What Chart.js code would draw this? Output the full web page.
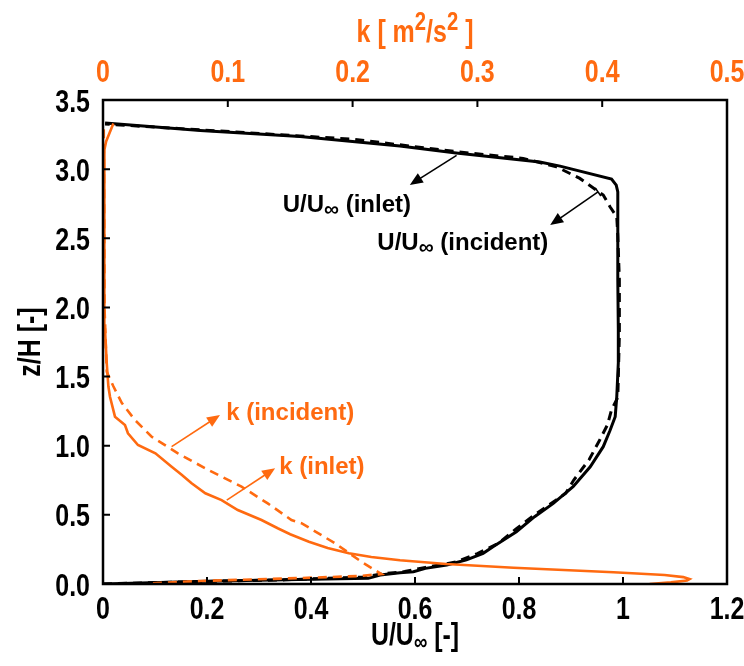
<!DOCTYPE html>
<html><head><meta charset="utf-8">
<script src="https://cdn.jsdelivr.net/npm/chart.js@4.4.0/dist/chart.umd.min.js"></script>
<style>html,body{margin:0;padding:0;background:#fff}#wrap{width:744px;height:666px}</style>
</head><body><div id="wrap"><canvas id="c" width="744" height="666"></canvas></div>
<script>
// ---- tick values ----
const uTicks = [0, 0.2, 0.4, 0.6, 0.8, 1, 1.2];
const kTicks = [0, 0.1, 0.2, 0.3, 0.4, 0.5];
const zTicks = [0, 0.5, 1, 1.5, 2, 2.5, 3, 3.5];

// ---- U/U∞ (inlet), solid black ----
const uInletZ = [0, 0.02, 0.034, 0.041, 0.065, 0.082, 0.089, 0.113, 0.137, 0.15, 0.174, 0.222, 0.27, 0.378, 0.487, 0.583, 0.704, 0.848, 0.993, 1.11, 1.21, 1.354, 1.6, 1.84, 2.2, 2.6, 2.835, 2.885, 2.928, 3.022, 3.051, 3.116, 3.167, 3.198, 3.236, 3.279, 3.333];
const uInletU = [0, 0.2, 0.4, 0.51, 0.533, 0.571, 0.597, 0.62, 0.661, 0.674, 0.699, 0.731, 0.75, 0.795, 0.83, 0.866, 0.904, 0.937, 0.962, 0.975, 0.985, 0.988, 0.991, 0.991, 0.99, 0.99, 0.99, 0.987, 0.978, 0.879, 0.84, 0.679, 0.571, 0.485, 0.379, 0.187, 0.004];

// ---- U/U∞ (incident), dashed black ----
const uIncZ = [0, 0.015, 0.03, 0.05, 0.072, 0.09, 0.12, 0.16, 0.22, 0.294, 0.4, 0.5, 0.656, 0.75, 0.9, 1.04, 1.15, 1.26, 1.35, 1.8, 2.2, 2.52, 2.656, 2.728, 2.813, 2.933, 3.017, 3.078, 3.126, 3.215, 3.27, 3.326];
const uIncU = [0, 0.15, 0.35, 0.5, 0.535, 0.58, 0.62, 0.68, 0.72, 0.76, 0.795, 0.83, 0.89, 0.905, 0.935, 0.955, 0.97, 0.978, 0.99, 0.993, 0.993, 0.99, 0.988, 0.975, 0.962, 0.917, 0.872, 0.808, 0.68, 0.485, 0.25, 0.004];

// ---- k (inlet), solid orange ----
const kInletZ = [0, 0.012, 0.025, 0.035, 0.05, 0.065, 0.085, 0.118, 0.145, 0.172, 0.195, 0.222, 0.26, 0.306, 0.36, 0.403, 0.463, 0.535, 0.607, 0.656, 0.728, 0.79, 0.848, 0.945, 1.005, 1.09, 1.15, 1.21, 1.354, 1.43, 1.596, 1.84, 2.5, 3.14, 3.2, 3.33];
const kInletK = [0.438, 0.455, 0.468, 0.47, 0.465, 0.45, 0.409, 0.329, 0.275, 0.238, 0.215, 0.197, 0.18, 0.165, 0.15, 0.14, 0.127, 0.108, 0.095, 0.082, 0.071, 0.063, 0.055, 0.042, 0.028, 0.02, 0.0176, 0.0096, 0.0056, 0.0043, 0.003, 0.0016, 0.0012, 0.001, 0.0025, 0.0083];

// ---- k (incident), dashed orange ----
const kIncZ = [0.005, 0.022, 0.043, 0.058, 0.072, 0.161, 0.294, 0.44, 0.463, 0.583, 0.704, 0.824, 0.945, 1.065, 1.186, 1.31, 1.43, 1.535, 2.0, 2.6, 3.0, 3.3];
const kIncK = [0.04, 0.078, 0.158, 0.206, 0.223, 0.207, 0.186, 0.159, 0.151, 0.132, 0.111, 0.0845, 0.06, 0.039, 0.0256, 0.015, 0.0083, 0.003, 0.0012, 0.001, 0.0008, 0.0006];

const ORANGE = '#FF6A10';
const SANS = "'Liberation Sans',Arial,sans-serif";
const SQ = 0.78; // horizontal condensing of axis text (narrow bold look)

const pts = (xs, zs) => xs.map((v, i) => ({x: v, y: zs[i]}));

const annotations = [
  {parts: ['U/U', '∞', ' (inlet)'], color: '#000', center: [0.469, 2.75], from: [0.680, 3.10], to: [0.590, 2.886], bar: false},
  {parts: ['U/U', '∞', ' (incident)'], color: '#000', center: [0.692, 2.473], from: [0.952, 2.835], to: [0.860, 2.596], bar: true},
  {parts: ['k', '', ' (incident)'], color: ORANGE, center: [0.36, 1.244], from: [0.132, 0.993], to: [0.225, 1.222], bar: false},
  {parts: ['k', '', ' (inlet)'], color: ORANGE, center: [0.421, 0.853], from: [0.238, 0.607], to: [0.331, 0.837], bar: false}
];

function arrow(ctx, x1, y1, x2, y2, color, bar) {
  const a = Math.atan2(y2 - y1, x2 - x1);
  const L = 13, W = 5.5;
  ctx.save();
  ctx.strokeStyle = color; ctx.fillStyle = color; ctx.lineWidth = 1.6;
  ctx.beginPath(); ctx.moveTo(x1, y1);
  ctx.lineTo(x2 - L * 0.8 * Math.cos(a), y2 - L * 0.8 * Math.sin(a)); ctx.stroke();
  ctx.beginPath();
  ctx.moveTo(x2, y2);
  ctx.lineTo(x2 - L * Math.cos(a) + W * Math.sin(a), y2 - L * Math.sin(a) - W * Math.cos(a));
  ctx.lineTo(x2 - L * Math.cos(a) - W * Math.sin(a), y2 - L * Math.sin(a) + W * Math.cos(a));
  ctx.closePath(); ctx.fill();
  if (bar) {
    ctx.beginPath();
    ctx.moveTo(x1 + 5 * Math.sin(a), y1 - 5 * Math.cos(a));
    ctx.lineTo(x1 - 5 * Math.sin(a), y1 + 5 * Math.cos(a));
    ctx.stroke();
  }
  ctx.restore();
}

// draw condensed text; align: 'left' | 'center' | 'right'
function sqText(ctx, txt, x, y, align, font) {
  ctx.save();
  ctx.font = font;
  ctx.translate(x, y); ctx.scale(SQ, 1);
  ctx.textAlign = align; ctx.textBaseline = 'alphabetic';
  ctx.fillText(txt, 0, 0);
  ctx.restore();
}
function sqWidth(ctx, txt, font) { ctx.save(); ctx.font = font; const w = ctx.measureText(txt).width * SQ; ctx.restore(); return w; }

const trim = v => String(Number(v.toFixed(2)));

const decor = {
  id: 'decor',
  afterDatasetsDraw(chart) {
    const {ctx, chartArea: ca, scales} = chart;
    const sx = scales.x, sy = scales.y, sk = scales.x2;
    ctx.save();
    ctx.strokeStyle = '#000'; ctx.lineWidth = 2.5;
    ctx.strokeRect(ca.left, ca.top, ca.right - ca.left, ca.bottom - ca.top);
    ctx.lineWidth = 2;
    const T = 7;
    ctx.beginPath();
    uTicks.forEach(v => { const p = sx.getPixelForValue(v); ctx.moveTo(p, ca.bottom); ctx.lineTo(p, ca.bottom - T); });
    kTicks.forEach(v => { const p = sk.getPixelForValue(v); ctx.moveTo(p, ca.top); ctx.lineTo(p, ca.top + T); });
    zTicks.forEach(v => { const p = sy.getPixelForValue(v); ctx.moveTo(ca.left, p); ctx.lineTo(ca.left + T, p); });
    ctx.stroke();

    // tick labels
    const tf = 'bold 32px ' + SANS;
    ctx.fillStyle = '#000';
    uTicks.forEach(v => sqText(ctx, trim(v), sx.getPixelForValue(v), ca.bottom + 35, 'center', tf));
    zTicks.forEach(v => sqText(ctx, v.toFixed(1), ca.left - 13, sy.getPixelForValue(v) + 11.5, 'right', tf));
    ctx.fillStyle = ORANGE;
    kTicks.forEach(v => sqText(ctx, trim(v), sk.getPixelForValue(v), ca.top - 18, 'center', tf));

    // annotations
    annotations.forEach(an => {
      const fx = sx.getPixelForValue(an.from[0]), fy = sy.getPixelForValue(an.from[1]);
      const tx = sx.getPixelForValue(an.to[0]), ty = sy.getPixelForValue(an.to[1]);
      arrow(ctx, fx, fy, tx, ty, an.color, an.bar);
      const cx = sx.getPixelForValue(an.center[0]), cy = sy.getPixelForValue(an.center[1]);
      const big = 'bold 24px ' + SANS, small = 'bold 21px ' + SANS;
      ctx.font = big; const w0 = ctx.measureText(an.parts[0]).width;
      const w2 = ctx.measureText(an.parts[2]).width;
      ctx.font = small; const w1 = an.parts[1] ? ctx.measureText(an.parts[1]).width : 0;
      let x = cx - (w0 + w1 + w2) / 2;
      ctx.fillStyle = an.color; ctx.textBaseline = 'alphabetic'; ctx.textAlign = 'left';
      const base = cy + 8;
      ctx.font = big; ctx.fillText(an.parts[0], x, base); x += w0;
      if (an.parts[1]) { ctx.font = small; ctx.fillText(an.parts[1], x, base + 4); x += w1; }
      ctx.font = big; ctx.fillText(an.parts[2], x, base);
    });
    ctx.restore();
  },
  afterDraw(chart) {
    const {ctx, chartArea: ca} = chart;
    ctx.save();
    const f = 'bold 32px ' + SANS, fs = 'bold 24px ' + SANS, fsup = 'bold 26px ' + SANS;
    ctx.fillStyle = '#000';
    // bottom title U/U∞ [-]
    const parts = [['U/U', f, 0], ['∞', fs, 5], [' [-]', f, 0]];
    let tw = parts.reduce((s, p) => s + sqWidth(ctx, p[0], p[1]), 0);
    let x = (ca.left + ca.right) / 2 - tw / 2;
    parts.forEach(p => { sqText(ctx, p[0], x, 645 + p[2], 'left', p[1]); x += sqWidth(ctx, p[0], p[1]); });
    // left title
    ctx.save(); ctx.translate(40, (ca.top + ca.bottom) / 2); ctx.rotate(-Math.PI / 2);
    sqText(ctx, 'z/H [-]', 0, 0, 'center', f); ctx.restore();
    // top title k [ m2/s2 ]
    ctx.fillStyle = ORANGE;
    const seq = [['k [ m', f, 0], ['2', fsup, -12], ['/s', f, 0], ['2', fsup, -12], [' ]', f, 0]];
    tw = seq.reduce((s, p) => s + sqWidth(ctx, p[0], p[1]), 0);
    x = (ca.left + ca.right) / 2 - tw / 2;
    seq.forEach(p => { sqText(ctx, p[0], x, 42 + p[2], 'left', p[1]); x += sqWidth(ctx, p[0], p[1]); });
    ctx.restore();
  }
};

new Chart(document.getElementById('c'), {
  type: 'scatter',
  data: {
    datasets: [
      {label: 'k (inlet)', data: pts(kInletK, kInletZ), xAxisID: 'x2', yAxisID: 'y', showLine: true, borderColor: ORANGE, borderWidth: 2.6, pointRadius: 0, fill: false},
      {label: 'k (incident)', data: pts(kIncK, kIncZ), xAxisID: 'x2', yAxisID: 'y', showLine: true, borderColor: ORANGE, borderWidth: 2.6, borderDash: [9, 6], pointRadius: 0, fill: false},
      {label: 'U/U∞ (inlet)', data: pts(uInletU, uInletZ), xAxisID: 'x', yAxisID: 'y', showLine: true, borderColor: '#000', borderWidth: 3, pointRadius: 0, fill: false},
      {label: 'U/U∞ (incident)', data: pts(uIncU, uIncZ), xAxisID: 'x', yAxisID: 'y', showLine: true, borderColor: '#000', borderWidth: 3, borderDash: [9, 6], pointRadius: 0, fill: false}
    ]
  },
  options: {
    responsive: false, animation: false, devicePixelRatio: 1,
    layout: {padding: {right: 17, left: 0, top: 0, bottom: 0}},
    plugins: {legend: {display: false}, tooltip: {enabled: false}},
    scales: {
      x: {type: 'linear', position: 'bottom', min: 0, max: 1.2,
        afterBuildTicks: s => { s.ticks = uTicks.map(v => ({value: v})); },
        afterFit: s => { s.height = 82; },
        grid: {display: false, drawTicks: false}, border: {display: false},
        ticks: {display: false}},
      x2: {type: 'linear', position: 'top', min: 0, max: 0.5,
        afterBuildTicks: s => { s.ticks = kTicks.map(v => ({value: v})); },
        afterFit: s => { s.height = 100; },
        grid: {display: false, drawTicks: false}, border: {display: false},
        ticks: {display: false}},
      y: {type: 'linear', position: 'left', min: 0, max: 3.5,
        afterBuildTicks: s => { s.ticks = zTicks.map(v => ({value: v})); },
        afterFit: s => { s.width = 103; },
        grid: {display: false, drawTicks: false}, border: {display: false},
        ticks: {display: false}}
    }
  },
  plugins: [decor]
});
</script></body></html>
